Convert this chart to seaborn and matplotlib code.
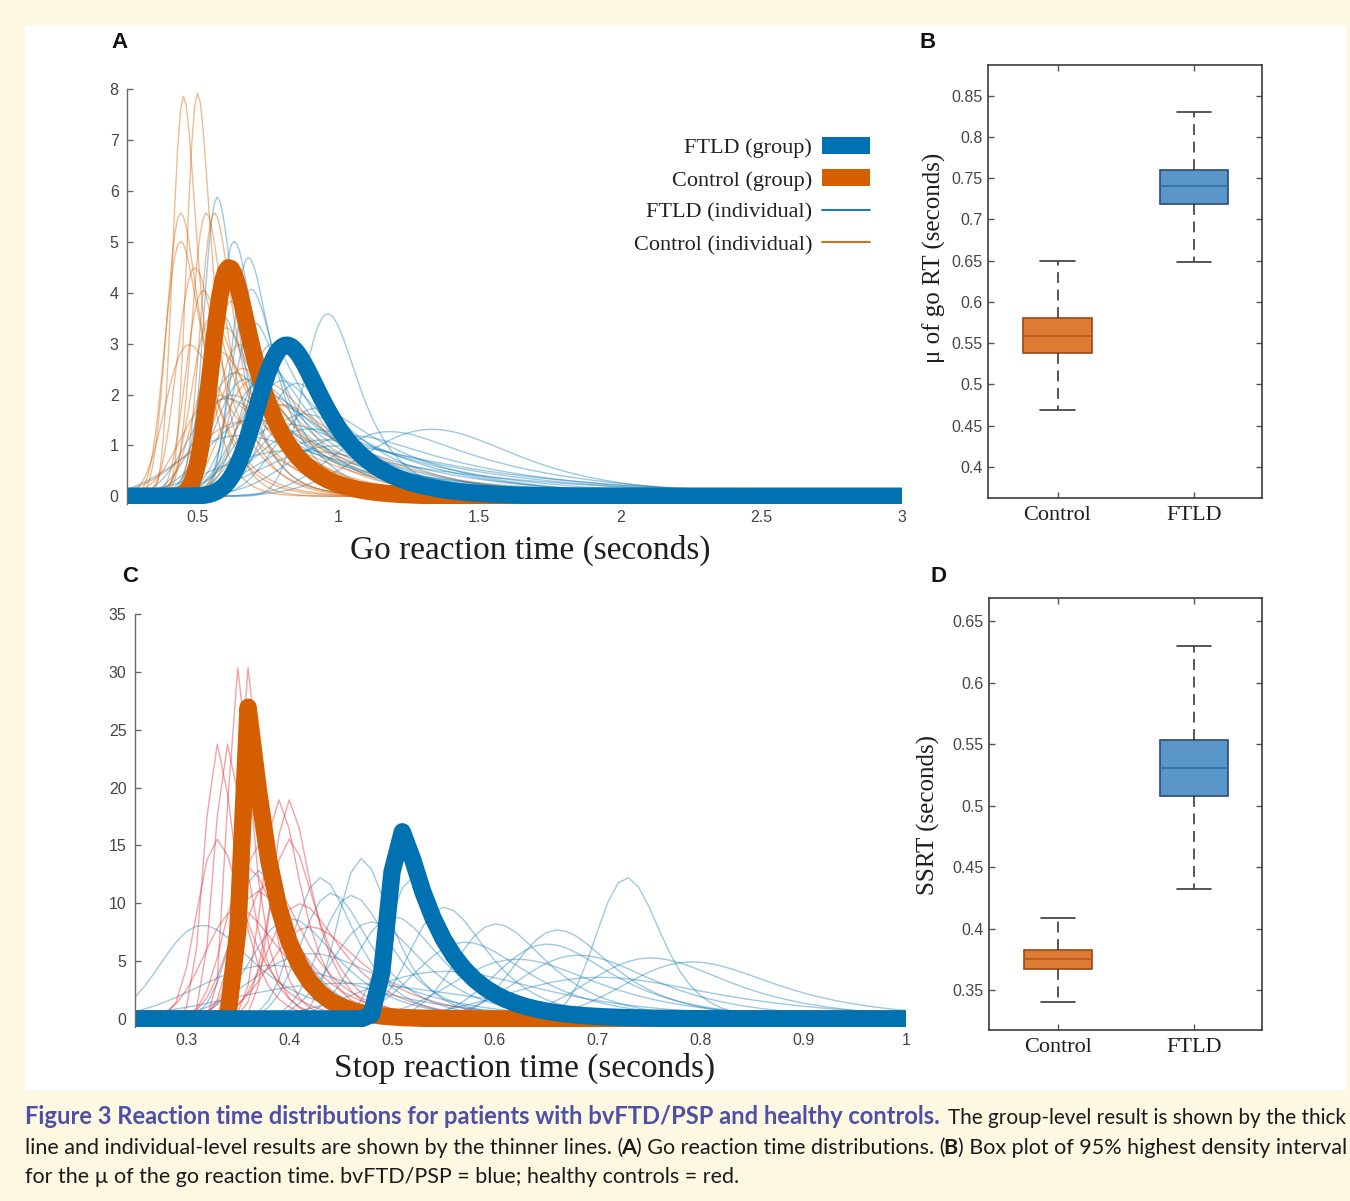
import math
import matplotlib
matplotlib.use("Agg")
import numpy as np
import pandas as pd
import matplotlib.pyplot as plt
import seaborn as sns
from matplotlib.patches import Patch, Rectangle
from matplotlib.lines import Line2D

sns.set_style("white")
plt.rcParams["font.family"] = ["Liberation Sans", "DejaVu Sans"]

W, H = 1350, 1201
BLUE = "#0072B2"
ORANGE = "#D55E00"
RED = "#E3242B"
PAGE = "#FDF8E2"
TICK = "#454545"
SERIF = "Liberation Serif"
CAPTION_FONT = "Lato"

# ---------------- data (ex-Gaussian parameters) ----------------
# Panel A: go reaction time, group level (Control, FTLD)
go_group_mu = [0.56, 0.735]
go_group_sigma = [0.045, 0.08]
go_group_tau = [0.122, 0.16]

# Panel A: individual controls
go_ctrl_mu = [0.42, 0.47, 0.398, 0.393, 0.488, 0.518, 0.438, 0.4875, 0.533, 0.50,
              0.575, 0.60, 0.65, 0.57, 0.56, 0.465, 0.395, 0.675, 0.52, 0.46]
go_ctrl_sigma = [0.03, 0.03, 0.038, 0.042, 0.038, 0.038, 0.047, 0.05, 0.054, 0.063,
                 0.06, 0.078, 0.08, 0.07, 0.047, 0.044, 0.06, 0.10, 0.16, 0.09]
go_ctrl_tau = [0.061, 0.060, 0.095, 0.106, 0.095, 0.095, 0.118, 0.17, 0.18, 0.21,
               0.20, 0.26, 0.27, 0.24, 0.155, 0.148, 0.20, 0.33, 0.32, 0.30]

# Panel A: individual FTLD patients
go_ftld_mu = [0.53, 0.583, 0.63, 0.632, 0.895, 1.15, 0.54, 0.575, 0.62, 0.64,
              0.70, 0.75, 0.655, 0.74, 0.55, 0.73, 0.75, 0.46, 0.775, 0.60,
              0.66, 0.635, 0.51, 0.86, 0.66, 0.485, 0.795, 0.52, 0.685, 1.0]
go_ftld_sigma = [0.036, 0.042, 0.045, 0.052, 0.07, 0.20, 0.074, 0.077, 0.08, 0.09,
                 0.08, 0.08, 0.10, 0.11, 0.12, 0.135, 0.16, 0.15, 0.18, 0.20,
                 0.07, 0.052, 0.09, 0.15, 0.126, 0.093, 0.10, 0.05, 0.06, 0.15]
go_ftld_tau = [0.09, 0.106, 0.113, 0.13, 0.125, 0.32, 0.245, 0.26, 0.27, 0.30,
               0.26, 0.27, 0.33, 0.37, 0.39, 0.45, 0.54, 0.50, 0.60, 0.65,
               0.23, 0.175, 0.30, 0.50, 0.42, 0.31, 0.35, 0.165, 0.20, 0.45]

# Panel C: stop-signal reaction time, group level (Control, FTLD)
ssrt_group_mu = [0.353, 0.497]
ssrt_group_sigma = [0.004, 0.008]
ssrt_group_tau = [0.0275, 0.043]

# Panel C: individual controls
ssrt_ctrl_mu = [0.342, 0.352, 0.32, 0.33, 0.377, 0.387, 0.3145, 0.3845, 0.354, 0.342,
                0.36, 0.348, 0.386, 0.325, 0.39]
ssrt_ctrl_sigma = [0.0078, 0.0078, 0.010, 0.010, 0.0126, 0.0126, 0.0153, 0.0153, 0.0158,
                   0.018, 0.020, 0.0216, 0.024, 0.025, 0.030]
ssrt_ctrl_tau = [0.0157, 0.0157, 0.020, 0.020, 0.025, 0.025, 0.0306, 0.0306, 0.0317,
                 0.0365, 0.040, 0.043, 0.0475, 0.050, 0.059]

# Panel C: individual FTLD patients
ssrt_ftld_mu = [0.453, 0.411, 0.501, 0.419, 0.438, 0.352, 0.526, 0.286, 0.572, 0.614,
                0.63, 0.71, 0.638, 0.706, 0.743, 0.474, 0.452, 0.373, 0.379, 0.535,
                0.575, 0.493, 0.374, 0.635, 0.33]
ssrt_ftld_sigma = [0.0187, 0.0212, 0.0212, 0.0238, 0.0242, 0.0202, 0.0268, 0.032, 0.0315,
                   0.040, 0.0336, 0.025, 0.047, 0.049, 0.0525, 0.029, 0.031, 0.030,
                   0.046, 0.039, 0.05, 0.063, 0.084, 0.072, 0.056]
ssrt_ftld_tau = [0.031, 0.0353, 0.0353, 0.0396, 0.0404, 0.0336, 0.0447, 0.053, 0.0525,
                 0.0667, 0.056, 0.027, 0.078, 0.082, 0.0875, 0.049, 0.051, 0.049,
                 0.076, 0.065, 0.084, 0.105, 0.14, 0.12, 0.093]

# Panels B and D: box summaries (lower whisker, Q1, median, Q3, upper whisker)
box_groups = ["Control", "FTLD"]
go_mu_ctrl = [0.469, 0.538, 0.559, 0.580, 0.650]
go_mu_ftld = [0.649, 0.719, 0.740, 0.760, 0.830]
ssrt_ctrl = [0.3405, 0.3668, 0.3754, 0.3825, 0.4088]
ssrt_ftld = [0.4321, 0.508, 0.5307, 0.5538, 0.6297]

box_fill = {"Control": "#DE7B33", "FTLD": "#5B96CA"}
box_edge = {"Control": "#9A4716", "FTLD": "#2B4C6E"}
box_median = {"Control": "#B0561E", "FTLD": "#36689A"}


def exgauss(x, mu, sigma, tau):
    x = np.asarray(x, float)
    u = (x - mu) / sigma - sigma / tau
    cdf = 0.5 * np.array([math.erfc(-v / math.sqrt(2)) for v in u])
    return np.exp((mu - x) / tau + sigma ** 2 / (2 * tau ** 2)) / tau * cdf


def curves(x, mus, sigmas, taus):
    frames = []
    for i, (m, s, t) in enumerate(zip(mus, sigmas, taus)):
        frames.append(pd.DataFrame({"rt": x, "density": exgauss(x, m, s, t), "subject": i}))
    return pd.concat(frames, ignore_index=True)


def fig_axes(left, top, right, bottom):
    return fig.add_axes([left / W, 1 - bottom / H, (right - left) / W, (bottom - top) / H])


fig = plt.figure(figsize=(13.5, 12.01), dpi=100)
fig.patch.set_facecolor(PAGE)
fig.add_artist(Rectangle((25 / W, 1 - 1090 / H), 1322 / W, 1064 / H, transform=fig.transFigure,
                         facecolor="white", edgecolor="none", zorder=-10))


# ---------------- density panels ----------------
def density_panel(ax, x, ind_ftld, ind_ctrl, ctrl_color, ctrl_alpha, group, thick):
    sns.lineplot(data=ind_ftld, x="rt", y="density", units="subject", estimator=None,
                 color=BLUE, alpha=0.38, linewidth=1.0, legend=False, ax=ax)
    sns.lineplot(data=ind_ctrl, x="rt", y="density", units="subject", estimator=None,
                 color=ctrl_color, alpha=ctrl_alpha, linewidth=1.0, legend=False, ax=ax)
    for (m, s, t), col in zip(group, [ORANGE, BLUE]):
        sns.lineplot(x=x, y=exgauss(x, m, s, t), estimator=None, color=col, linewidth=thick,
                     solid_joinstyle="round", ax=ax)
    for side in ["top", "right", "bottom"]:
        ax.spines[side].set_visible(False)
    ax.spines["left"].set_color("#6a6a6a")
    ax.spines["left"].set_linewidth(1.0)
    ax.tick_params(axis="y", left=True, direction="in", length=4.5, width=1.0, color="#6a6a6a",
                   labelsize=11.5, labelcolor=TICK, pad=6)
    ax.tick_params(axis="x", bottom=True, length=0, labelsize=11.5, labelcolor=TICK, pad=4)
    ax.set_ylabel("")
    ax.set_facecolor("none")


xa = np.round(np.arange(0.25, 3.0001, 0.01), 2)
axA = fig_axes(127, 89, 902, 504)
density_panel(axA, xa,
              curves(xa, go_ftld_mu, go_ftld_sigma, go_ftld_tau),
              curves(xa, go_ctrl_mu, go_ctrl_sigma, go_ctrl_tau),
              ORANGE, 0.42,
              list(zip(go_group_mu, go_group_sigma, go_group_tau)), 12.5)
axA.set_xlim(0.25, 3)
axA.set_ylim(-0.15, 8)
axA.set_yticks(range(0, 9))
axA.set_xticks([0.5, 1, 1.5, 2, 2.5, 3])
axA.set_xticklabels(["0.5", "1", "1.5", "2", "2.5", "3"])
axA.set_xlabel("Go reaction time (seconds)", family=SERIF, fontsize=24, color="#1e1e1e")
axA.xaxis.set_label_coords(0.52, -0.075)

handles = [Patch(facecolor=BLUE, edgecolor="none"), Patch(facecolor=ORANGE, edgecolor="none"),
           Line2D([], [], color=BLUE, lw=1.3), Line2D([], [], color=ORANGE, lw=1.3)]
labels = ["FTLD (group)", "Control (group)", "FTLD (individual)", "Control (individual)"]
leg = axA.legend(handles, labels, loc="upper right", bbox_to_anchor=(870 / W, 1 - 137 / H),
                 bbox_transform=fig.transFigure, frameon=False, markerfirst=False,
                 prop={"family": SERIF, "size": 16}, handlelength=2.15, handleheight=0.8,
                 handletextpad=0.45, labelspacing=0.5, borderpad=0, borderaxespad=0)
for t in leg.get_texts():
    t.set_color("#222222")

xc = np.round(np.arange(0.25, 1.0001, 0.01), 2)
axC = fig_axes(135, 614, 906, 1027)
density_panel(axC, xc,
              curves(xc, ssrt_ftld_mu, ssrt_ftld_sigma, ssrt_ftld_tau),
              curves(xc, ssrt_ctrl_mu, ssrt_ctrl_sigma, ssrt_ctrl_tau),
              RED, 0.42,
              list(zip(ssrt_group_mu, ssrt_group_sigma, ssrt_group_tau)), 12.5)
axC.set_xlim(0.25, 1)
axC.set_ylim(-0.7, 35)
axC.set_yticks(range(0, 36, 5))
axC.set_xticks([0.3, 0.4, 0.5, 0.6, 0.7, 0.8, 0.9, 1])
axC.set_xticklabels(["0.3", "0.4", "0.5", "0.6", "0.7", "0.8", "0.9", "1"])
axC.set_xlabel("Stop reaction time (seconds)", family=SERIF, fontsize=24, color="#1e1e1e")
axC.xaxis.set_label_coords(0.505, -0.063)


# ---------------- box panels ----------------
def box_panel(ax, ctrl, ftld, ylim, yticks, ylabel, label_xy):
    df = pd.DataFrame({"group": ["Control"] * len(ctrl) + ["FTLD"] * len(ftld),
                       "value": ctrl + ftld})
    sns.boxplot(data=df, x="group", y="value", hue="group", order=box_groups,
                hue_order=box_groups, palette=box_fill, saturation=1, whis=(0, 100),
                width=0.5, linewidth=1.1, legend=False, ax=ax)
    for patch in ax.patches:
        cx = patch.get_path().vertices[:, 0].mean()
        patch.set_edgecolor(box_edge[box_groups[int(round(cx))]])
        patch.set_linewidth(1.2)
    for ln in ax.lines:
        xd = np.asarray(ln.get_xdata(), float)
        yd = np.asarray(ln.get_ydata(), float)
        if len(xd) != 2:
            continue
        cx = xd.mean()
        grp = box_groups[int(round(cx))]
        if yd[0] == yd[1]:
            if abs(abs(xd[1] - xd[0]) - 0.5) < 1e-6:
                ln.set_color(box_median[grp])
                ln.set_linewidth(1.1)
            else:
                ln.set_xdata([round(cx) - 0.125, round(cx) + 0.125])
                ln.set_color("#3a3a3a")
                ln.set_linewidth(1.2)
        else:
            ln.set_color("#3a3a3a")
            ln.set_linewidth(1.2)
            ln.set_linestyle((0, (6.5, 4)))
    ax.set_xlim(-0.51, 1.5)
    ax.set_ylim(*ylim)
    ax.set_yticks(yticks)
    ax.set_yticklabels(["%g" % v for v in yticks])
    for s in ax.spines.values():
        s.set_color("#3c3c3c")
        s.set_linewidth(1.2)
    ax.tick_params(axis="y", left=True, right=True, direction="in", length=4, width=1,
                   color="#555555", labelsize=11.5, labelcolor=TICK, pad=4)
    ax.tick_params(axis="x", bottom=True, top=True, direction="in", length=4, width=1,
                   color="#555555", pad=6)
    for t in ax.get_xticklabels():
        t.set_family(SERIF)
        t.set_fontsize(16)
        t.set_color("#1e1e1e")
    ax.set_xlabel("")
    ax.set_ylabel(ylabel, family=SERIF, fontsize=18, color="#1e1e1e")
    ax.yaxis.set_label_coords(*label_xy)


axB = fig_axes(988, 65, 1262, 498)
box_panel(axB, go_mu_ctrl, go_mu_ftld, (0.3624, 0.8872),
          [0.4, 0.45, 0.5, 0.55, 0.6, 0.65, 0.7, 0.75, 0.8, 0.85],
          "μ of go RT (seconds)", (-0.155, 0.554))

axD = fig_axes(989, 598, 1262, 1030)
box_panel(axD, ssrt_ctrl, ssrt_ftld, (0.3175, 0.669),
          [0.35, 0.4, 0.45, 0.5, 0.55, 0.6, 0.65],
          "SSRT (seconds)", (-0.18, 0.497))

# panel letters
for letter, (px, py) in {"A": (120, 42), "B": (928, 42), "C": (130, 577), "D": (938, 577)}.items():
    fig.text(px / W, 1 - py / H, letter, ha="center", va="center", fontsize=16,
             fontweight="bold", family="Liberation Sans", color="#111111")

# ---------------- caption ----------------
CAP_BLUE = "#4E4FA6"
CAP_TEXT = "#1a1a1a"
renderer = fig.canvas.get_renderer()


def caption_line(runs, y_px, x0, x1=None, size=None):
    texts = []
    for s, bold, col in runs:
        texts.append(fig.text(0, 1 - y_px / H, s, fontsize=13, family=CAPTION_FONT,
                              fontweight="bold" if bold else "normal", color=col,
                              ha="left", va="baseline"))
    widths = [t.get_window_extent(renderer=renderer).width for t in texts]
    k = (x1 - x0) / sum(widths) if x1 is not None else size / 13
    x = x0
    for t, w in zip(texts, widths):
        t.set_fontsize(13 * k)
        t.set_x(x / W)
        x += w * k
    return 13 * k


caption_line([("Figure 3 Reaction time distributions for patients with bvFTD/PSP and healthy controls.", True, CAP_BLUE)],
             1124, 25, 940)
caption_line([("The group-level result is shown by the thick", False, CAP_TEXT)], 1124, 948, 1345)
size2 = caption_line([("line and individual-level results are shown by the thinner lines. (", False, CAP_TEXT),
                      ("A", True, CAP_TEXT),
                      (") Go reaction time distributions. (", False, CAP_TEXT),
                      ("B", True, CAP_TEXT),
                      (") Box plot of 95% highest density interval", False, CAP_TEXT)], 1154, 25, 1345)
caption_line([("for the µ of the go reaction time. bvFTD/PSP = blue; healthy controls = red.", False, CAP_TEXT)],
             1183, 25, size=size2)

fig.savefig("out.png", dpi=100, facecolor=PAGE)
